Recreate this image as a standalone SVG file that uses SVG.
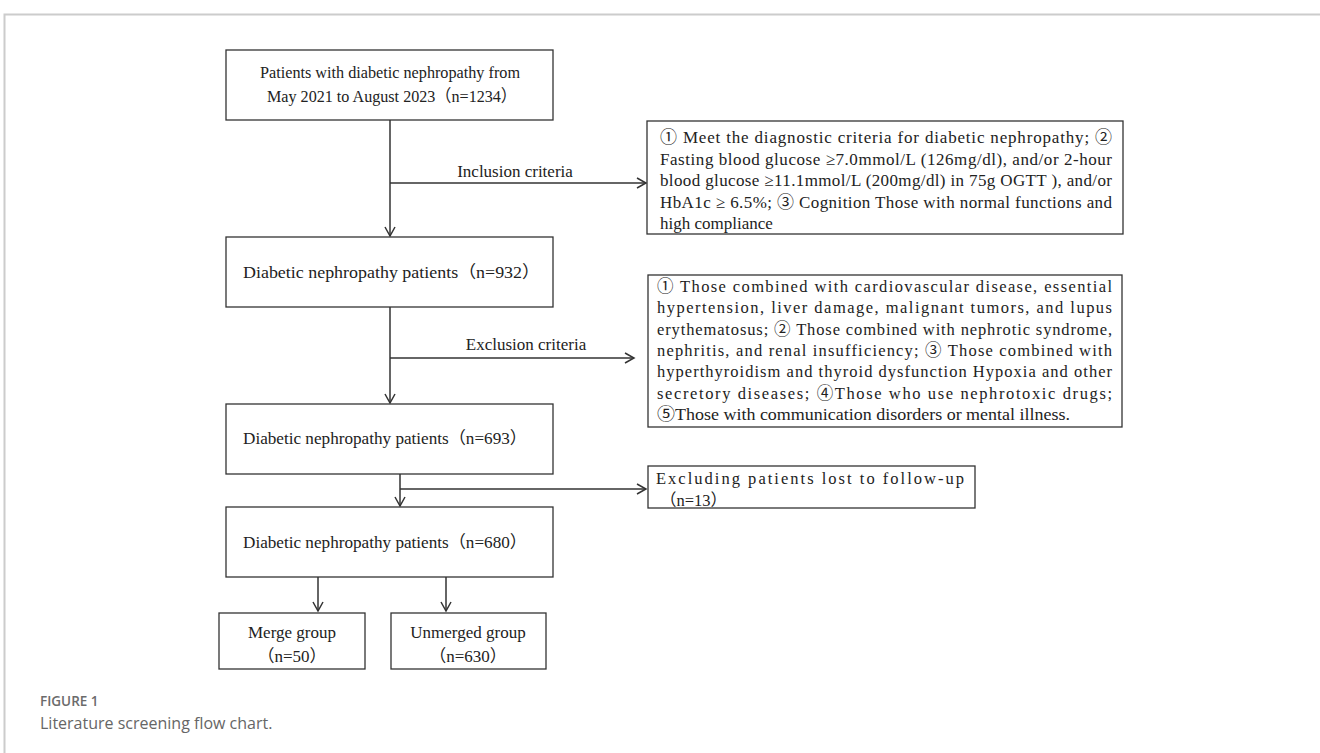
<svg xmlns="http://www.w3.org/2000/svg" width="1320" height="753" viewBox="0 0 1320 753">
<style>
.box{fill:#fff;stroke:#333;stroke-width:1.3}
.t{font-family:"Liberation Serif","Noto Sans CJK SC",serif;font-size:17px;fill:#222}
.s{font-size:16.5px}
.c{text-anchor:middle}
.ln{stroke:#333;stroke-width:1.5;fill:none}
.cap1{font-family:"Open Sans","Liberation Sans",sans-serif;font-size:13.5px;font-weight:600;fill:#6b6b6b}
.cap2{font-family:"Open Sans","Liberation Sans",sans-serif;font-size:16px;fill:#666}
</style>
<defs>
<marker id="ah" markerWidth="12" markerHeight="12" refX="10" refY="6" orient="auto" markerUnits="userSpaceOnUse">
<path d="M1,1 L10,6 L1,11" fill="none" stroke="#333" stroke-width="1.5"/>
</marker>
</defs>
<rect width="1320" height="753" fill="#fff"/>
<path d="M4.5,753 V14.5 H1320" fill="none" stroke="#ccc" stroke-width="2"/>

<g id="connectors">
<line class="ln" x1="390" y1="120" x2="390" y2="236" marker-end="url(#ah)"/>
<line class="ln" x1="390" y1="183" x2="646" y2="183" marker-end="url(#ah)"/>
<line class="ln" x1="390" y1="307" x2="390" y2="403" marker-end="url(#ah)"/>
<line class="ln" x1="390" y1="358" x2="634" y2="358" marker-end="url(#ah)"/>
<line class="ln" x1="400" y1="474" x2="400" y2="506" marker-end="url(#ah)"/>
<line class="ln" x1="400" y1="489" x2="646" y2="489" marker-end="url(#ah)"/>
<line class="ln" x1="318" y1="577" x2="318" y2="611" marker-end="url(#ah)"/>
<line class="ln" x1="446" y1="577" x2="446" y2="611" marker-end="url(#ah)"/>
<text class="t c" x="515" y="177">Inclusion criteria</text>
<text class="t c" x="526" y="350">Exclusion criteria</text>
</g>

<g id="n1">
<rect class="box" x="226" y="50" width="327" height="70"/>
<text class="t" x="260" y="78" textLength="260" lengthAdjust="spacingAndGlyphs">Patients with diabetic nephropathy from</text>
<text class="t" x="267" y="102" textLength="250" lengthAdjust="spacingAndGlyphs">May 2021 to August 2023（n=1234）</text>
</g>

<g id="n2">
<rect class="box" x="647" y="121" width="476" height="113"/>
<text class="t" x="660" y="143" textLength="452" lengthAdjust="spacing">① Meet the diagnostic criteria for diabetic nephropathy; ②</text>
<text class="t" x="660" y="164.5" textLength="452" lengthAdjust="spacing">Fasting blood glucose ≥7.0mmol/L (126mg/dl), and/or 2-hour</text>
<text class="t" x="660" y="186" textLength="452" lengthAdjust="spacing">blood glucose ≥11.1mmol/L (200mg/dl) in 75g OGTT ), and/or</text>
<text class="t" x="660" y="207.5" textLength="452" lengthAdjust="spacing">HbA1c ≥ 6.5%; ③ Cognition Those with normal functions and</text>
<text class="t" x="660" y="229">high compliance</text>
</g>

<g id="n3">
<rect class="box" x="226" y="237" width="327" height="70"/>
<text class="t" x="243" y="278" textLength="297" lengthAdjust="spacingAndGlyphs">Diabetic nephropathy patients（n=932）</text>
</g>

<g id="n4">
<rect class="box" x="648" y="275" width="474" height="152"/>
<text class="t s" x="657" y="292" textLength="455" lengthAdjust="spacing">① Those combined with cardiovascular disease, essential</text>
<text class="t s" x="657" y="313.3" textLength="455" lengthAdjust="spacing">hypertension, liver damage, malignant tumors, and lupus</text>
<text class="t s" x="657" y="334.6" textLength="455" lengthAdjust="spacing">erythematosus; ② Those combined with nephrotic syndrome,</text>
<text class="t s" x="657" y="356" textLength="455" lengthAdjust="spacing">nephritis, and renal insufficiency; ③ Those combined with</text>
<text class="t s" x="657" y="377.3" textLength="455" lengthAdjust="spacing">hyperthyroidism and thyroid dysfunction Hypoxia and other</text>
<text class="t s" x="657" y="398.6" textLength="455" lengthAdjust="spacing">secretory diseases; ④Those who use nephrotoxic drugs;</text>
<text class="t s" x="657" y="420" textLength="413" lengthAdjust="spacingAndGlyphs">⑤Those with communication disorders or mental illness.</text>
</g>

<g id="n5">
<rect class="box" x="226" y="404" width="327" height="70"/>
<text class="t" x="243" y="444" textLength="284" lengthAdjust="spacingAndGlyphs">Diabetic nephropathy patients（n=693）</text>
</g>

<g id="n6">
<rect class="box" x="648" y="466" width="327" height="42"/>
<text class="t s" x="656" y="484" textLength="308" lengthAdjust="spacing">Excluding patients lost to follow-up</text>
<text class="t s" x="660" y="506">（n=13）</text>
</g>

<g id="n7">
<rect class="box" x="226" y="507" width="327" height="70"/>
<text class="t" x="243" y="548" textLength="284" lengthAdjust="spacingAndGlyphs">Diabetic nephropathy patients（n=680）</text>
</g>

<g id="n8">
<rect class="box" x="219" y="613" width="146" height="56"/>
<text class="t c" x="292" y="638">Merge group</text>
<text class="t c" x="292" y="662">（n=50）</text>
</g>

<g id="n9">
<rect class="box" x="391" y="613" width="155" height="56"/>
<text class="t c" x="468" y="638">Unmerged group</text>
<text class="t c" x="468" y="662">（n=630）</text>
</g>

<text class="cap1" x="40" y="706">FIGURE 1</text>
<text class="cap2" x="40" y="729">Literature screening flow chart.</text>
</svg>
